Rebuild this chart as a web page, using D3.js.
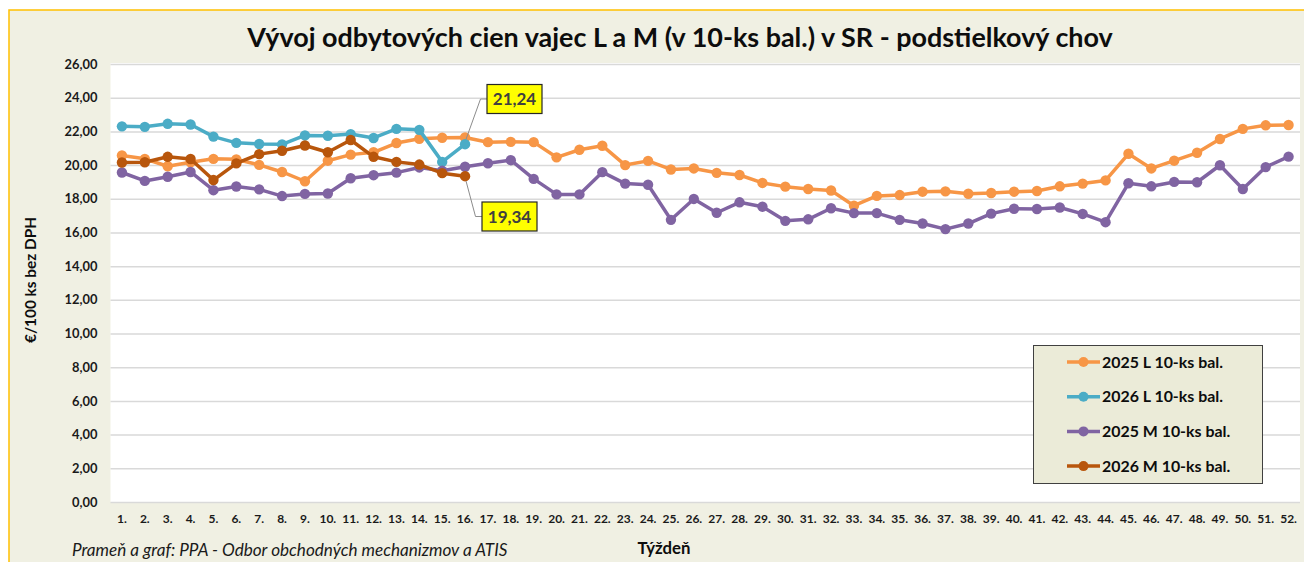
<!DOCTYPE html>
<html><head><meta charset="utf-8">
<script src="https://cdn.jsdelivr.net/npm/d3@7"></script>
<style>
html,body{margin:0;padding:0;background:#fff;}
svg text{font-family:Lato,"Liberation Sans",sans-serif;}
</style></head>
<body>
<svg id="chart" width="1304" height="562"></svg>
<script>
const weeks = ["1.","2.","3.","4.","5.","6.","7.","8.","9.","10.","11.","12.","13.","14.","15.","16.","17.","18.","19.","20.","21.","22.","23.","24.","25.","26.","27.","28.","29.","30.","31.","32.","33.","34.","35.","36.","37.","38.","39.","40.","41.","42.","43.","44.","45.","46.","47.","48.","49.","50.","51.","52."];
const yTicks = [0,2,4,6,8,10,12,14,16,18,20,22,24,26];
const seriesNames = ["2025 L 10-ks bal.","2026 L 10-ks bal.","2025 M 10-ks bal.","2026 M 10-ks bal."];
const L2025 = [20.57,20.37,19.93,20.17,20.37,20.34,20.01,19.59,19.04,20.26,20.62,20.76,21.31,21.56,21.62,21.64,21.36,21.38,21.36,20.46,20.91,21.15,20.00,20.25,19.74,19.80,19.54,19.41,18.94,18.72,18.58,18.49,17.59,18.17,18.22,18.42,18.44,18.30,18.34,18.42,18.46,18.74,18.90,19.09,20.67,19.80,20.26,20.73,21.55,22.15,22.36,22.38];
const L2026 = [22.30,22.27,22.45,22.41,21.69,21.32,21.25,21.23,21.76,21.74,21.84,21.61,22.15,22.09,20.19,21.24];
const M2025 = [19.56,19.06,19.31,19.59,18.51,18.73,18.56,18.16,18.29,18.31,19.22,19.40,19.55,19.86,19.66,19.90,20.11,20.29,19.18,18.26,18.26,19.58,18.90,18.83,16.75,17.99,17.17,17.79,17.53,16.69,16.78,17.44,17.15,17.15,16.75,16.53,16.20,16.53,17.12,17.41,17.39,17.48,17.10,16.61,18.92,18.74,19.00,18.98,19.99,18.58,19.88,20.50];
const M2026 = [20.15,20.17,20.49,20.36,19.11,20.10,20.65,20.85,21.16,20.76,21.49,20.49,20.19,20.03,19.52,19.34];
const titleText = "Vývoj odbytových cien vajec L a M (v 10-ks bal.) v SR - podstielkový chov";
const yTitle = "€/100 ks bez DPH";
const xTitle = "Týždeň";
const sourceText = "Prameň a graf: PPA - Odbor obchodných mechanizmov a ATIS";
const colors = ["#F79646","#4BACC6","#8064A2","#B8560C"];

const svg = d3.select("#chart");
function fit(sel, base, target){
  sel.attr("font-size", base+"px");
  const w = sel.node().getComputedTextLength();
  sel.attr("font-size", (base*target/w).toFixed(2)+"px");
  return base*target/w;
}
// chart background
svg.append("rect").attr("x",9).attr("y",10).attr("width",1320).attr("height",570)
  .attr("fill","#F0F0E3").attr("stroke","#FFC000").attr("stroke-width",1.5);

const plot = {left:110.5, right:1300, top:63, bottom:502};
svg.append("rect").attr("x",plot.left).attr("y",plot.top).attr("width",plot.right-plot.left).attr("height",plot.bottom-plot.top).attr("fill","#fff");

const x = d3.scaleBand().domain(weeks).range([plot.left, plot.right]).padding(0);
const xc = d => x(d) + x.bandwidth()/2;
const y = d3.scaleLinear().domain([0,26]).range([plot.bottom, 64]);

// grid + y axis
const yAxis = d3.axisLeft(y).tickValues(yTicks).tickSize(-(plot.right-plot.left)).tickPadding(13)
  .tickFormat(d => d3.format(".2f")(d).replace(".",","));
const gy = svg.append("g").attr("transform",`translate(${plot.left},0)`).call(yAxis);
gy.select(".domain").remove();
gy.selectAll(".tick line").attr("stroke","#D9D9D9").attr("stroke-width",1.5);
gy.selectAll(".tick text").attr("font-weight","bold").attr("fill","#1a1a1a");
const probe = gy.selectAll(".tick text").filter(d=>d===22);
const yfs = fit(probe, 12.5, 33);
gy.selectAll(".tick text").attr("font-size", yfs.toFixed(2)+"px");

const xAxis = d3.axisBottom(x).tickSize(0).tickPadding(12);
const gx = svg.append("g").attr("transform",`translate(0,${plot.bottom})`).call(xAxis);
gx.select(".domain").remove();
gx.selectAll(".tick text").attr("font-size","12px").attr("font-weight","bold").attr("fill","#1a1a1a");

// lines
const data = [L2025, L2026, M2025, M2026];
const line = d3.line().x((d,i)=>xc(weeks[i])).y(d=>y(d));
data.forEach((s,k)=>{
  svg.append("path").datum(s).attr("d",line).attr("fill","none").attr("stroke",colors[k])
    .attr("stroke-width",3.5).attr("stroke-linejoin","round");
  svg.append("g").selectAll("circle").data(s).join("circle")
    .attr("cx",(d,i)=>xc(weeks[i])).attr("cy",d=>y(d)).attr("r",5.2).attr("fill",colors[k]);
});

// annotations
function annot(val, bx, by, bw, bh, pts){
  svg.append("polyline").attr("points",pts.map(p=>p.join(",")).join(" "))
    .attr("fill","none").attr("stroke","#8c8c8c").attr("stroke-width",1);
  svg.append("rect").attr("x",bx).attr("y",by).attr("width",bw).attr("height",bh)
    .attr("fill","#FFFF00").attr("stroke","#262626").attr("stroke-width",1.2);
  svg.append("text").attr("x",bx+bw/2).attr("y",by+bh/2+6).attr("text-anchor","middle")
    .attr("font-size","17px").attr("font-weight","bold").attr("fill","#404040")
    .text(d3.format(".2f")(val).replace(".",","));
}
const i16 = weeks.indexOf("16.");
const px = xc(weeks[i16]);
annot(L2026[i16], 487, 84.5, 55, 29, [[px+1,y(L2026[i16])-5],[480.5,99],[487,99]]);
annot(M2026[i16], 482, 202, 55, 29, [[px+1,y(M2026[i16])+5],[475.5,216.5],[482,216.5]]);

// title
const t = svg.append("text").attr("x",680).attr("y",47).attr("text-anchor","middle")
  .attr("font-weight","bold").attr("fill","#0d0d0d").text(titleText);
fit(t, 25, 866);

// y title
const yt = svg.append("text").attr("transform","translate(36,280) rotate(-90)").attr("text-anchor","middle")
  .attr("font-weight","bold").attr("fill","#0d0d0d").text(yTitle);
fit(yt, 14, 126);
// x title
const xt = svg.append("text").attr("x",664).attr("y",554).attr("text-anchor","middle")
  .attr("font-weight","bold").attr("fill","#0d0d0d").text(xTitle);
fit(xt, 14, 53);
// source
const s = svg.append("text").attr("x",72).attr("y",556)
  .attr("font-style","italic").attr("fill","#1a1a1a").text(sourceText);
fit(s, 13.5, 436);

// legend
const lg = svg.append("g");
lg.append("rect").attr("x",1033.5).attr("y",345.5).attr("width",229).attr("height",138)
  .attr("fill","#EBEBD8").attr("stroke","#404040").attr("stroke-width",1);
let lfs = null;
seriesNames.forEach((n,k)=>{
  const yy = 362 + k*34.7;
  lg.append("line").attr("x1",1067).attr("x2",1100).attr("y1",yy).attr("y2",yy)
    .attr("stroke",colors[k]).attr("stroke-width",3.5);
  lg.append("circle").attr("cx",1083.5).attr("cy",yy).attr("r",5).attr("fill",colors[k]);
  const tx = lg.append("text").attr("x",1102).attr("y",yy+5.5)
    .attr("font-weight","bold").attr("fill","#0d0d0d").text(n);
  if (k===0) lfs = fit(tx, 14, 121);
  else tx.attr("font-size", lfs.toFixed(2)+"px");
});
</script>
</body></html>
